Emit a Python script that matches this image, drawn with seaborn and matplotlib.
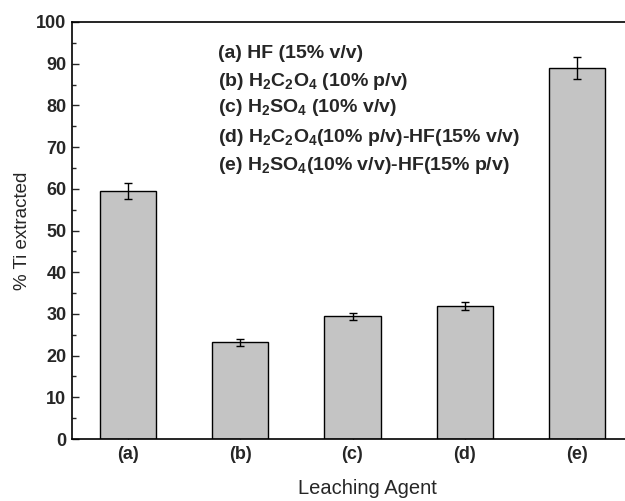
import matplotlib
matplotlib.use("Agg")
import matplotlib.pyplot as plt
import seaborn as sns
import pandas as pd
from matplotlib.ticker import MultipleLocator

categories = ["(a)", "(b)", "(c)", "(d)", "(e)"]
values = [59.5, 23.2, 29.4, 31.9, 89.0]
errors = [1.9, 0.8, 0.8, 0.9, 2.6]
legend_lines = [
    "(a) HF (15% v/v)",
    r"(b) H$_2$C$_2$O$_4$ (10% p/v)",
    r"(c) H$_2$SO$_4$ (10% v/v)",
    r"(d) H$_2$C$_2$O$_4$(10% p/v)-HF(15% v/v)",
    r"(e) H$_2$SO$_4$(10% v/v)-HF(15% p/v)",
]

sns.set_style("ticks")
plt.rcParams["font.family"] = ["Liberation Sans", "DejaVu Sans"]
plt.rcParams["mathtext.fontset"] = "custom"
plt.rcParams["mathtext.bf"] = "Liberation Sans:bold"
plt.rcParams["mathtext.rm"] = "Liberation Sans:bold"
plt.rcParams["mathtext.default"] = "bf"

df = pd.DataFrame({"agent": categories, "ti": values})

fig = plt.figure(figsize=(6.25, 5.01), dpi=100)
W, H = 625, 501
left, right, top, bottom = 72, 633, 22, 439
ax = fig.add_axes([left / W, 1 - bottom / H, (right - left) / W, (bottom - top) / H])

sns.barplot(data=df, x="agent", y="ti", color="#c4c4c4", edgecolor="black",
            linewidth=1.0, width=0.5, errorbar=None, saturation=1, ax=ax)
ax.errorbar(range(len(categories)), values, yerr=errors, fmt="none",
            ecolor="black", elinewidth=1.0, capsize=3, capthick=1.0)

ax.set_xlim(-0.5, 4.5)
ax.set_ylim(0, 100)
ax.yaxis.set_major_locator(MultipleLocator(10))
ax.yaxis.set_minor_locator(MultipleLocator(5))
ax.tick_params(axis="both", which="both", direction="in")
ax.tick_params(axis="both", which="major", length=5, width=1)
ax.tick_params(axis="y", which="minor", length=3, width=1)
ax.tick_params(axis="x", which="major", pad=5)
ax.tick_params(axis="y", which="major", pad=4)
for lab in ax.get_xticklabels() + ax.get_yticklabels():
    lab.set_fontweight("bold")
    lab.set_fontsize(13)
for s in ax.spines.values():
    s.set_linewidth(1.2)
    s.set_color("black")

ax.set_xlabel("Leaching Agent", fontsize=14.5)
ax.xaxis.set_label_coords((367 - left) / (right - left), -(489 - bottom) / (bottom - top))
ax.xaxis.label.set_va("center")
ax.set_ylabel("% Ti extracted", fontsize=13.5)
ax.yaxis.set_label_coords(-(left - 23) / (right - left), 0.5)
ax.yaxis.label.set_va("center")

ys = [53, 81, 108, 137, 166]
for txt, yp in zip(legend_lines, ys):
    fig.text(218 / W, 1 - yp / H, txt, fontsize=14, fontweight="bold",
             va="center", ha="left")

fig.savefig("out.png", dpi=100)
